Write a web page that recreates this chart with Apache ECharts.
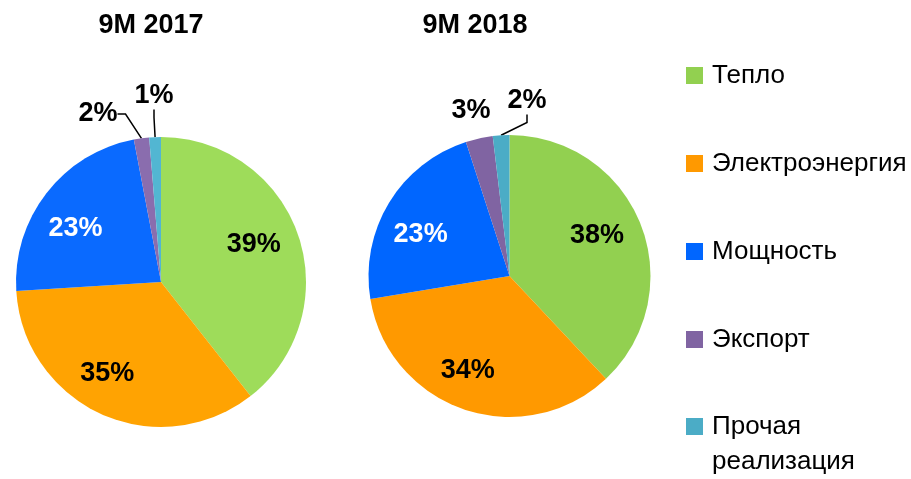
<!DOCTYPE html>
<html>
<head>
<meta charset="utf-8">
<script src="https://cdn.jsdelivr.net/npm/echarts@6/dist/echarts.min.js"></script>
<style>
  html, body { margin: 0; padding: 0; background: #fff; }
  #chart { width: 911px; height: 479px; }
</style>
</head>
<body>
<div id="chart"></div>
<script>
const categories = ['Тепло', 'Электроэнергия', 'Мощность', 'Экспорт', 'Прочая реализация'];
const years = ['9M 2017', '9M 2018'];
const values2017 = [39.4, 34.6, 23.0, 1.7, 1.3];
const values2018 = [38.0, 34.4, 22.6, 3.1, 1.9];

const FONT = '"Liberation Sans", Arial, sans-serif';
const colors2017 = ['#9EDC5A', '#FFA302', '#0A6AFF', '#8A6DAE', '#52B6D2'];
const colors2018 = ['#92D050', '#FF9900', '#0066FF', '#8064A2', '#4BACC6'];
const labelColors = ['#000', '#000', '#fff'];

// where the small outside labels sit (label centre), per pie
const smallLabels = [
  { 3: { x: 98, y: 114, line: true }, 4: { x: 154, y: 96, line: true } },
  { 3: { x: 471, y: 111, line: false }, 4: { x: 527, y: 101, line: true } }
];
// small nudges for the inside labels
const insideNudge = [
  [[-6, -3], [-11, -4], [-3, 11]],
  [[-7, -3], [-9, -2], [-2, 11]]
];

var dom = document.getElementById('chart');
var myChart = echarts.init(dom, null, { renderer: 'canvas' });

function pct(v) { return Math.round(v) + '%'; }

// visible pie, only the small slices get an outside label
function piePart(k, values, colors, center, r) {
  return {
    type: 'pie',
    name: years[k],
    center: center,
    radius: [0, r],
    startAngle: 90,
    clockwise: true,
    silent: true,
    animation: false,
    avoidLabelOverlap: false,
    itemStyle: { borderWidth: 0 },
    label: { show: false },
    labelLine: { show: false },
    labelLayout: function (p) {
      var s = smallLabels[k][p.dataIndex];
      if (!s) return {};
      return { x: s.x, y: s.y, align: 'center', verticalAlign: 'middle' };
    },
    data: values.map(function (v, i) {
      var item = { name: categories[i], value: v, itemStyle: { color: colors[i] } };
      if (i >= 3) {
        item.label = {
          show: true, position: 'outside', formatter: pct(v),
          fontFamily: FONT, fontWeight: 'bold', fontSize: 27, color: '#000'
        };
        item.labelLine = {
          show: smallLabels[k][i].line, length: 10, length2: 8,
          lineStyle: { color: '#000', width: 1.5 }
        };
      }
      return item;
    })
  };
}

// transparent ring used only to put the big labels at ~0.7 radius
function labelRing(k, values, center, r) {
  return {
    type: 'pie',
    center: center,
    radius: [r * 0.4, r],
    startAngle: 90,
    clockwise: true,
    silent: true,
    animation: false,
    legendHoverLink: false,
    itemStyle: { color: 'rgba(0,0,0,0)' },
    label: { show: false },
    labelLine: { show: false },
    labelLayout: function (p) {
      var n = insideNudge[k][p.dataIndex];
      return n ? { dx: n[0], dy: n[1] } : {};
    },
    data: values.map(function (v, i) {
      var item = { name: categories[i], value: v };
      if (i < 3) {
        item.label = {
          show: true, position: 'inside', formatter: pct(v),
          fontFamily: FONT, fontWeight: 'bold', fontSize: 27, color: labelColors[i]
        };
      }
      return item;
    })
  };
}

var legendText = { fontFamily: FONT, fontSize: 26, lineHeight: 35, color: '#000', padding: [0, 0, 0, 4] };

var option = {
  backgroundColor: '#fff',
  graphic: [
    { type: 'text', x: 151, y: 26, style: { text: years[0], font: 'bold 27px ' + FONT, fill: '#000', align: 'center', verticalAlign: 'middle' } },
    { type: 'text', x: 475, y: 26, style: { text: years[1], font: 'bold 27px ' + FONT, fill: '#000', align: 'center', verticalAlign: 'middle' } }
  ],
  legend: [
    {
      orient: 'vertical',
      left: 686,
      top: 58,
      height: 400,
      padding: 0,
      selectedMode: false,
      icon: 'rect',
      itemWidth: 17,
      itemHeight: 17,
      itemGap: 53,
      data: categories.slice(0, 4).map(function (c, i) {
        return { name: c, itemStyle: { color: colors2018[i] } };
      }),
      textStyle: legendText
    },
    {
      // two-line item: an empty first line keeps the marker on "Прочая"
      orient: 'vertical',
      left: 686,
      top: 374,
      padding: 0,
      selectedMode: false,
      icon: 'rect',
      itemWidth: 17,
      itemHeight: 17,
      data: [{ name: categories[4], itemStyle: { color: colors2018[4] } }],
      formatter: function (name) { return ' \n' + name.replace(' ', '\n'); },
      textStyle: legendText
    }
  ],
  series: [
    piePart(0, values2017, colors2017, [161, 282], 145),
    labelRing(0, values2017, [161, 282], 145),
    piePart(1, values2018, colors2018, [509.5, 276], 141),
    labelRing(1, values2018, [509.5, 276], 141)
  ]
};

myChart.setOption(option);
window.addEventListener('resize', myChart.resize);
</script>
</body>
</html>
